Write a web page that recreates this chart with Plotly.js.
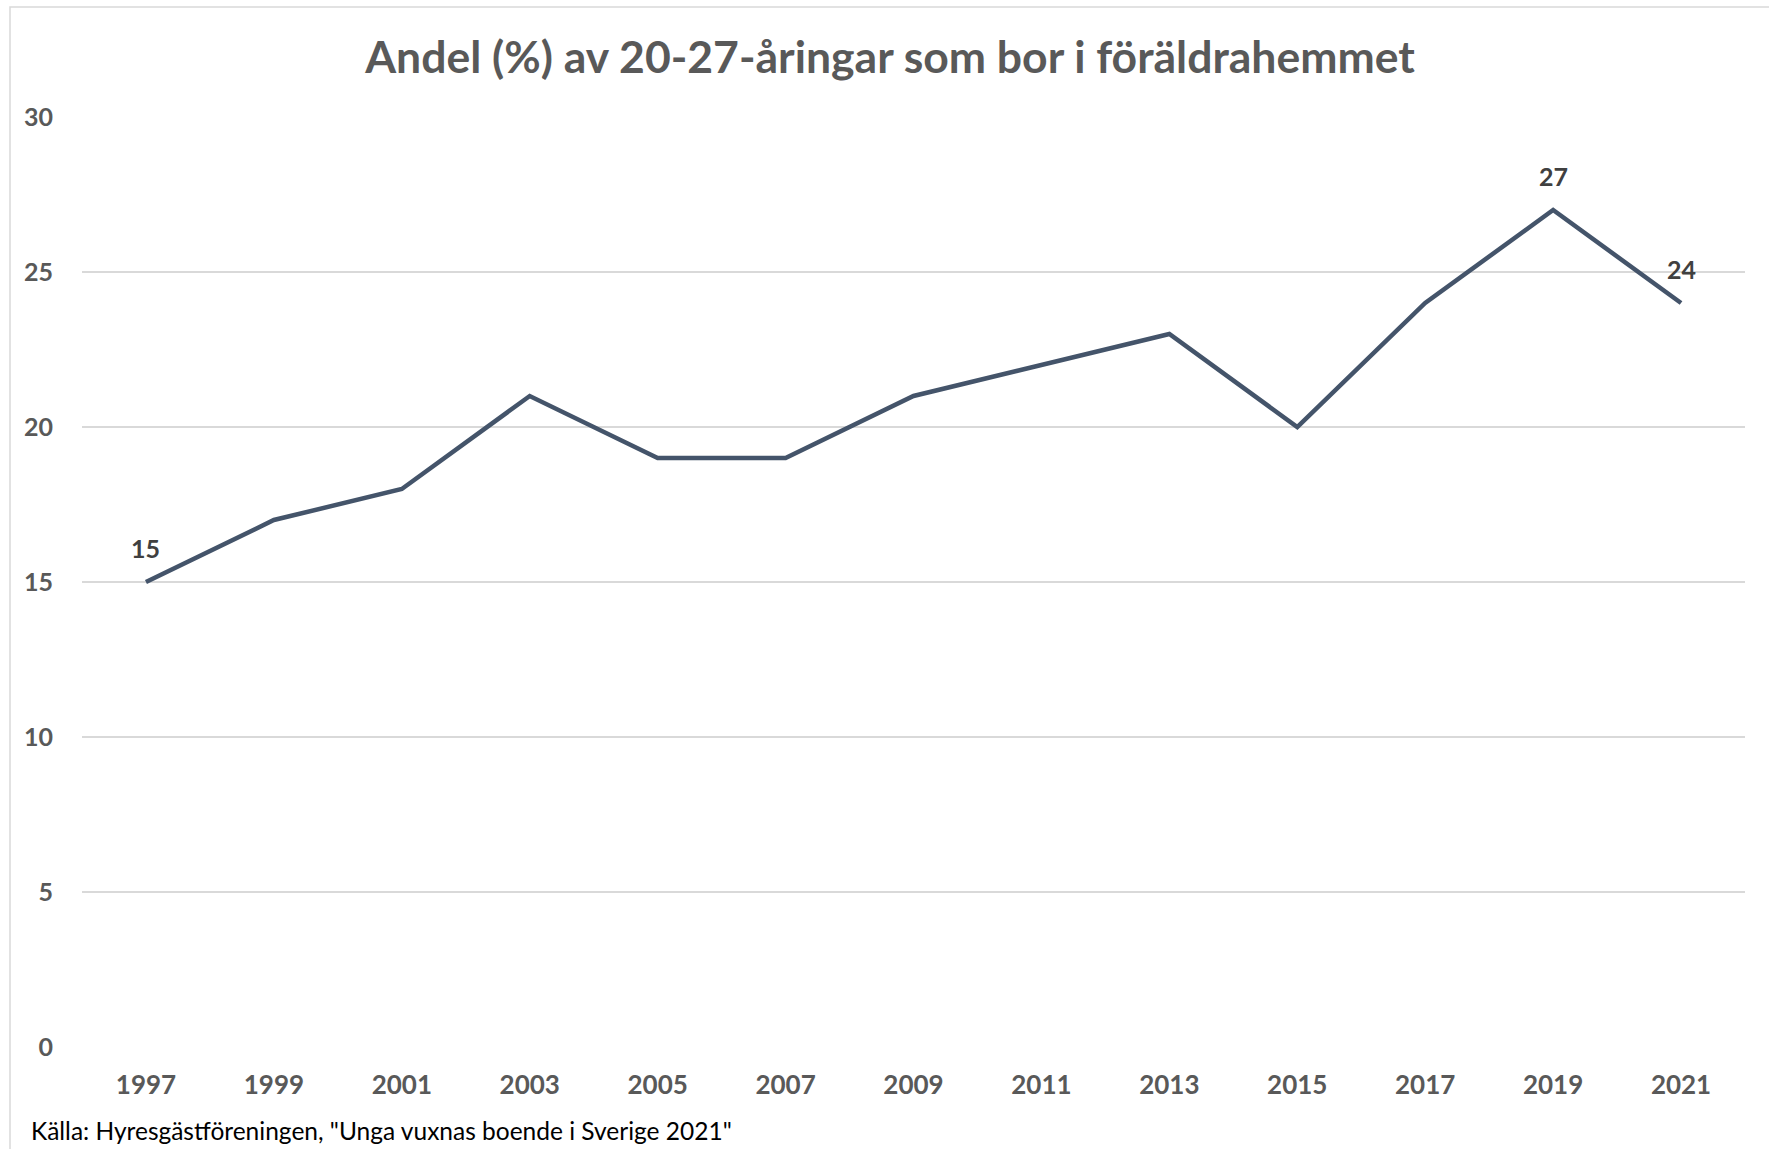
<!DOCTYPE html>
<html>
<head>
<meta charset="utf-8">
<script src="https://cdn.plot.ly/plotly-3.0.1.min.js"></script>
<style>html,body{margin:0;padding:0;background:#fff;}#chart{width:1769px;height:1149px;}</style>
</head>
<body>
<div id="chart"></div>
<script>
const years = [1997,1999,2001,2003,2005,2007,2009,2011,2013,2015,2017,2019,2021];
const shares = [15,17,18,21,19,19,21,22,23,20,24,27,24];
const labelledYears = [1997,2019,2021];
const yTicks = [0,5,10,15,20,25,30];
const titleText = "Andel (%) av 20-27-åringar som bor i föräldrahemmet";
const sourceText = "Källa: Hyresgästföreningen, \"Unga vuxnas boende i Sverige 2021\"";

const FONT = "Lato, 'Open Sans', sans-serif";
const W = 1769, H = 1149;
const M = {l: 82, r: 24, t: 117, b: 102};
const pw = W - M.l - M.r, ph = H - M.t - M.b;
const px = x => (x - M.l) / pw;
const py = y => (H - M.b - y) / ph;

const annotations = years.map((yr, i) => labelledYears.includes(yr) ? {
  x: yr, y: shares[i], xref: 'x', yref: 'y', text: '<b>' + shares[i] + '</b>', showarrow: false,
  yshift: 34, font: {family: FONT, size: 25, color: '#404040'}
} : null).filter(a => a);

annotations.push({
  xref: 'paper', yref: 'paper', x: px(29), y: py(1130), xanchor: 'left', yanchor: 'middle',
  text: sourceText, showarrow: false,
  font: {family: FONT, size: 24.5, color: '#000000'}
});

const data = [{
  type: 'scatter', mode: 'lines', x: years, y: shares,
  line: {color: '#44546A', width: 4.5},
  hoverinfo: 'x+y'
}];

const layout = {
  width: W, height: H,
  margin: M,
  paper_bgcolor: '#ffffff', plot_bgcolor: '#ffffff',
  showlegend: false,
  title: {text: '<b>' + titleText + '</b>', xref: 'container', yref: 'container', x: 890 / W, y: 1 - 57 / H,
    xanchor: 'center', yanchor: 'middle', font: {family: FONT, size: 44.5, color: '#595959'}},
  xaxis: {type: 'linear', range: [years[0] - 1, years[years.length - 1] + 1], tickvals: years,
    ticktext: years.map(String), showgrid: false, zeroline: false, showline: false, ticks: '',
    ticklabelstandoff: 20, fixedrange: true,
    tickfont: {family: FONT, size: 26, color: '#595959', weight: 'bold'}},
  yaxis: {range: [0, 30], tickvals: yTicks, ticktext: yTicks.map(String), showgrid: true,
    gridcolor: '#d9d9d9', gridwidth: 1.5, zeroline: false, showline: false, ticks: '',
    ticklabelstandoff: 28,
    tickfont: {family: FONT, size: 25, color: '#595959', weight: 'bold'}},
  annotations: annotations,
  shapes: [{type: 'rect', xref: 'paper', yref: 'paper', x0: px(10), x1: px(1790), y0: py(1170), y1: py(7),
    line: {color: '#d9d9d9', width: 1.5}, fillcolor: 'rgba(0,0,0,0)', layer: 'below'}]
};

Plotly.newPlot('chart', data, layout, {displayModeBar: false, staticPlot: true});
</script>
</body>
</html>
